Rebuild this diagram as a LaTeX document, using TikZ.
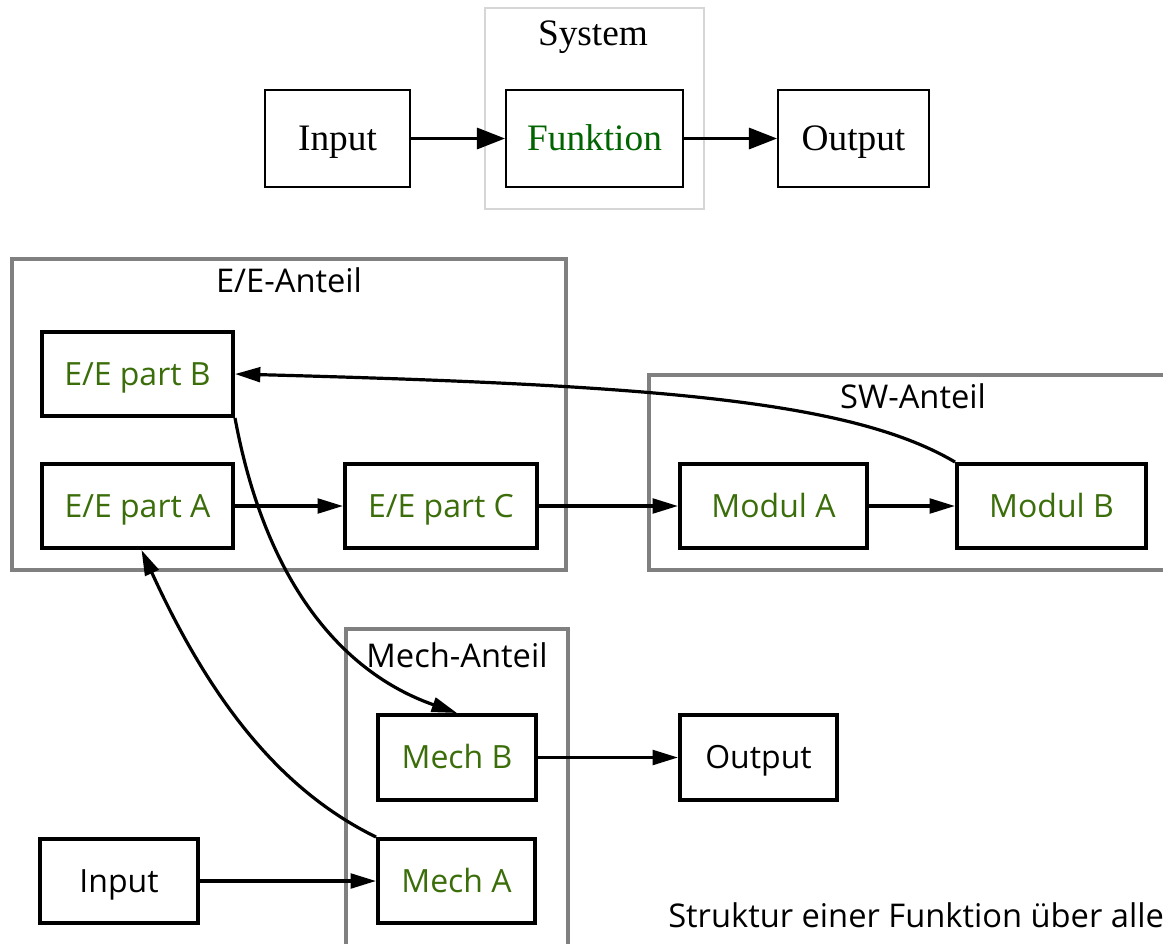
\documentclass[tikz,border=0pt]{standalone}
\usepackage{fontspec}
\setmainfont{Liberation Serif}
\newfontfamily\diagsans{Open Sans}
\usetikzlibrary{arrows.meta}
\definecolor{topgreen}{HTML}{006400}
\definecolor{botgreen}{HTML}{3B6E0A}
\definecolor{clustergray}{HTML}{808080}
\definecolor{syscluster}{HTML}{D6D6D6}
\def\pxu{0.75pt}
\tikzset{
  topbox/.style={draw=black, line width=1.6pt, inner sep=0pt, text height=24pt, text depth=6pt, font=\fontsize{28}{33}\selectfont},
  botbox/.style={draw=black, line width=3pt, inner sep=0pt, text height=17.5pt, text depth=0.5pt, font=\diagsans\fontsize{24}{29}\selectfont},
  topcluster/.style={draw=syscluster, line width=1.5pt},
  botcluster/.style={draw=clustergray, line width=2.3pt},
  toparrow/.style={line width=1.6pt, -{Triangle[length=21pt,width=16pt]}},
  botarrow/.style={line width=2.4pt, -{Triangle[length=19pt,width=11pt]}},
  toplabel/.style={font=\fontsize{28}{33}\selectfont, inner sep=0pt},
  botlabel/.style={font=\diagsans\fontsize{24.5}{30}\selectfont, inner sep=0pt},
}
\begin{document}
\begin{tikzpicture}[x=0.75pt,y=-0.75pt]
\useasboundingbox (0,0) rectangle (1163,943);
% ---------- top ----------
\draw[topcluster] (485,8) rectangle (704,209);
\node[toplabel] (syslab) at (593,37) {System};
\node[topbox, minimum width=145*\pxu, minimum height=97*\pxu] (tin) at (337.5,138.5) {Input};
\node[topbox, minimum width=177*\pxu, minimum height=97*\pxu, text=topgreen] (fun) at (594.5,138.5) {Funktion};
\node[topbox, minimum width=151*\pxu, minimum height=97*\pxu] (tout) at (853.5,138.5) {Output};
\draw[toparrow] (tin) -- (fun);
\draw[toparrow] (fun) -- (tout);
% ---------- clusters ----------
\draw[botcluster] (12,259) rectangle (566,570);
\node[botlabel] (eelab) at (289,280) {E/E-Anteil};
\draw[botcluster] (649,375) rectangle (1180,570);
\node[botlabel] (swlab) at (913,396) {SW-Anteil};
\draw[botcluster] (346,629) rectangle (568,960);
\node[botlabel] (mechlab) at (457,655) {Mech-Anteil};
% ---------- nodes ----------
\node[botbox, minimum width=191*\pxu, minimum height=84*\pxu, text=botgreen] (eeB) at (137.5,374) {E/E part B};
\node[botbox, minimum width=191*\pxu, minimum height=84*\pxu, text=botgreen] (eeA) at (137.5,506) {E/E part A};
\node[botbox, minimum width=192*\pxu, minimum height=84*\pxu, text=botgreen] (eeC) at (441,506) {E/E part C};
\node[botbox, minimum width=187*\pxu, minimum height=84*\pxu, text=botgreen] (modA) at (773.5,506) {Modul A};
\node[botbox, minimum width=189*\pxu, minimum height=84*\pxu, text=botgreen] (modB) at (1051.5,506) {Modul B};
\node[botbox, minimum width=158*\pxu, minimum height=85*\pxu, text=botgreen] (mechB) at (457,757.5) {Mech B};
\node[botbox, minimum width=157*\pxu, minimum height=85*\pxu] (bout) at (758.5,757.5) {Output};
\node[botbox, minimum width=157*\pxu, minimum height=84*\pxu, text=botgreen] (mechA) at (456.5,881) {Mech A};
\node[botbox, minimum width=158*\pxu, minimum height=84*\pxu] (bin) at (119,881) {Input};
\node[botlabel, anchor=base west] (caption) at (668,927) {Struktur einer Funktion über alle};
% ---------- connectors ----------
\draw[botarrow] (eeA) -- (eeC);
\draw[botarrow] (eeC) -- (modA);
\draw[botarrow] (modA) -- (modB);
\draw[botarrow] (modB.north west) .. controls (850,400) and (650,385) .. (eeB.east);
\draw[botarrow] (eeB.south east) .. controls (265,580) and (340,672) .. (mechB.north);
\draw[botarrow] (mechA.north west) .. controls (280,790) and (210,700) .. ([xshift=3]eeA.south);
\draw[botarrow] (bin) -- (mechA);
\draw[botarrow] (mechB) -- (bout);
\end{tikzpicture}
\end{document}
